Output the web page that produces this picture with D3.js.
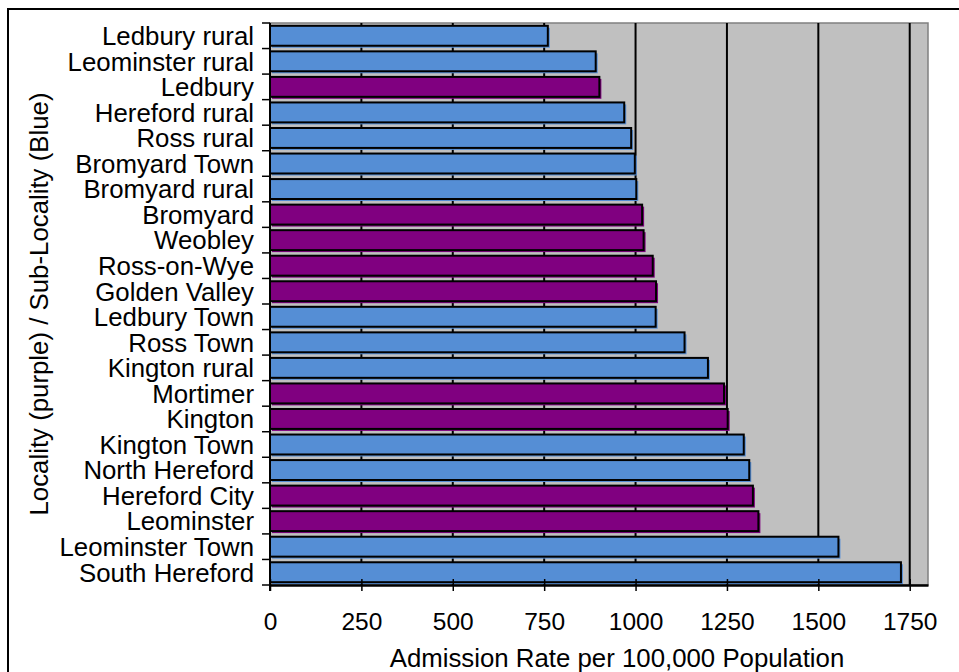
<!DOCTYPE html>
<html>
<head>
<meta charset="utf-8">
<script src="https://cdn.jsdelivr.net/npm/d3@7"></script>
<style>
  html, body { margin: 0; padding: 0; background: #ffffff; }
  svg { display: block; font-family: "Liberation Sans", Arial, sans-serif; }
</style>
</head>
<body>
<svg id="chart" width="959" height="672"></svg>
<script>
// ---- Data ----
const categories = [
  "Ledbury rural", "Leominster rural", "Ledbury", "Hereford rural", "Ross rural",
  "Bromyard Town", "Bromyard rural", "Bromyard", "Weobley", "Ross-on-Wye",
  "Golden Valley", "Ledbury Town", "Ross Town", "Kington rural", "Mortimer",
  "Kington", "Kington Town", "North Hereford", "Hereford City", "Leominster",
  "Leominster Town", "South Hereford"
];
const values = [
  760, 891, 901, 969, 988,
  998, 1002, 1018, 1022, 1047,
  1056, 1055, 1134, 1198, 1242,
  1252, 1296, 1311, 1321, 1336,
  1555, 1726
];
// "L" = Locality (purple), "S" = Sub-Locality (blue)
const levels = [
  "S", "S", "L", "S", "S",
  "S", "S", "L", "L", "L",
  "L", "S", "S", "S", "L",
  "L", "S", "S", "L", "L",
  "S", "S"
];
const xTicks = [0, 250, 500, 750, 1000, 1250, 1500, 1750];
const xMax = 1800;
const xTitle = "Admission Rate per 100,000 Population";
const yTitle = "Locality (purple) / Sub-Locality (Blue)";

// ---- Layout ----
const svg = d3.select("#chart");
const W = 959, H = 672;
const plot = { left: 270, right: 928, top: 23, bottom: 585 };
const colorMap = { L: "#800080", S: "#558ed5" };

const x = d3.scaleLinear().domain([0, xMax]).range([plot.left, plot.right]);
const y = d3.scaleBand().domain(categories).range([plot.top, plot.bottom]).paddingInner(0.22).paddingOuter(0.11);

// outer frame (extends beyond the picture)
svg.append("rect")
  .attr("x", 8).attr("y", 9)
  .attr("width", W + 20).attr("height", H + 20)
  .attr("fill", "none").attr("stroke", "#000").attr("stroke-width", 2);

// plot background
svg.append("rect")
  .attr("x", plot.left).attr("y", plot.top)
  .attr("width", plot.right - plot.left).attr("height", plot.bottom - plot.top)
  .attr("fill", "#c0c0c0").attr("stroke", "#808080").attr("stroke-width", 1.5);

// gridlines
svg.append("g")
  .selectAll("line")
  .data(xTicks.filter(d => d > 0))
  .join("line")
  .attr("x1", d => x(d)).attr("x2", d => x(d))
  .attr("y1", plot.top).attr("y2", plot.bottom)
  .attr("stroke", "#000").attr("stroke-width", 2);

// bars
const data = categories.map((c, i) => ({ cat: c, value: values[i], level: levels[i] }));
const bars = svg.append("g");
// coloured offset shadow
bars.selectAll("rect.shadow")
  .data(data)
  .join("rect")
  .attr("class", "shadow")
  .attr("x", x(0) + 2)
  .attr("y", d => y(d.cat) + 2)
  .attr("width", d => x(d.value) - x(0))
  .attr("height", y.bandwidth())
  .attr("fill", d => colorMap[d.level]);
// main bar with black outline
bars.selectAll("rect.bar")
  .data(data)
  .join("rect")
  .attr("class", "bar")
  .attr("x", x(0))
  .attr("y", d => y(d.cat))
  .attr("width", d => x(d.value) - x(0))
  .attr("height", y.bandwidth())
  .attr("fill", d => colorMap[d.level])
  .attr("stroke", "#000")
  .attr("stroke-width", 2);

// y axis
const yAxisG = svg.append("g");
yAxisG.append("line")
  .attr("x1", plot.left).attr("x2", plot.left)
  .attr("y1", plot.top).attr("y2", plot.bottom + 6)
  .attr("stroke", "#000").attr("stroke-width", 2);
// tick marks at band boundaries
const boundaries = d3.range(categories.length + 1).map(i => plot.top + i * (plot.bottom - plot.top) / categories.length);
yAxisG.selectAll("line.tick")
  .data(boundaries)
  .join("line")
  .attr("class", "tick")
  .attr("x1", plot.left - 8).attr("x2", plot.left)
  .attr("y1", d => d).attr("y2", d => d)
  .attr("stroke", "#000").attr("stroke-width", 1.5);
yAxisG.selectAll("text")
  .data(categories)
  .join("text")
  .attr("x", plot.left - 16)
  .attr("y", d => y(d) + y.bandwidth() / 2)
  .attr("dy", "0.36em")
  .attr("text-anchor", "end")
  .attr("font-size", 25.8)
  .attr("fill", "#000")
  .text(d => d);

// x axis
const xAxisG = svg.append("g").attr("transform", `translate(0,${plot.bottom})`);
xAxisG.call(d3.axisBottom(x).tickValues(xTicks).tickFormat(d3.format("d")).tickSizeInner(6).tickSizeOuter(0).tickPadding(22))
  .call(g => g.select(".domain").attr("stroke", "#000").attr("stroke-width", 2.5))
  .call(g => g.selectAll(".tick line").attr("stroke", "#000").attr("stroke-width", 1.5).attr("y1", -6))
  .call(g => g.selectAll(".tick text").attr("font-size", 24.5).attr("fill", "#000")
    .attr("font-family", "'Liberation Sans', Arial, sans-serif"));

// axis titles
svg.append("text")
  .attr("x", (plot.left + plot.right) / 2 + 18)
  .attr("y", 667)
  .attr("text-anchor", "middle")
  .attr("font-size", 25.8)
  .attr("fill", "#000")
  .text(xTitle);

svg.append("text")
  .attr("transform", `translate(48,${(plot.top + plot.bottom) / 2}) rotate(-90)`)
  .attr("text-anchor", "middle")
  .attr("font-size", 25.8)
  .attr("fill", "#000")
  .text(yTitle);
</script>
</body>
</html>
